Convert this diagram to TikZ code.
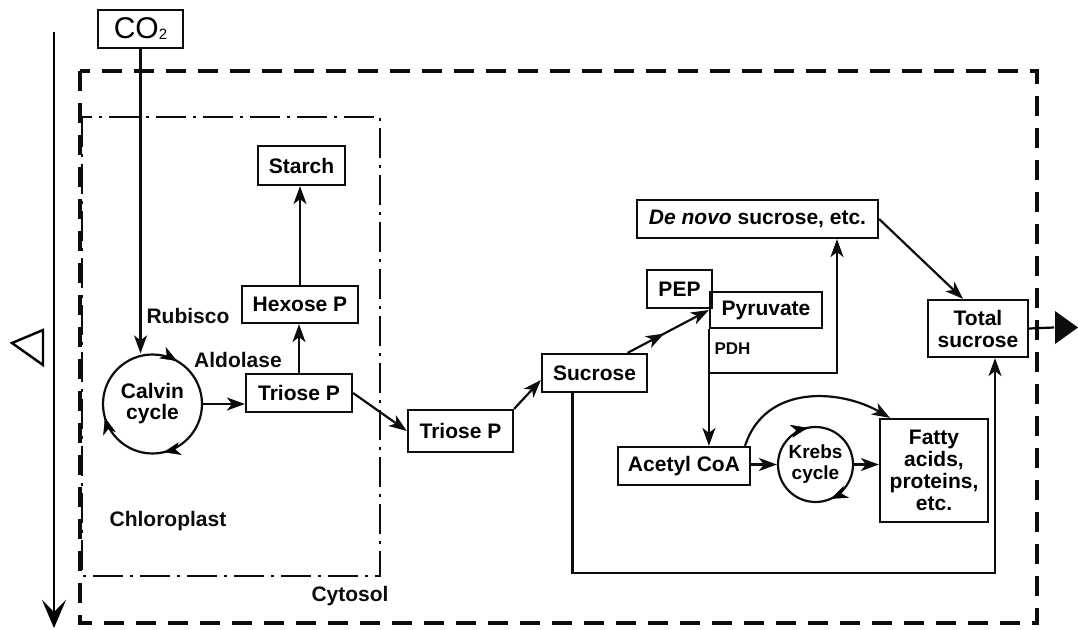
\documentclass[tikz,border=0pt]{standalone}
\usepackage{fontspec}
\setmainfont{Liberation Sans}
\usepackage{xcolor}
\usepackage{tikz}
\usetikzlibrary{positioning,arrows.meta,calc,decorations.markings}
\definecolor{ink}{gray}{0.05}
\tikzset{
  box/.style={draw=ink, line width=2.2pt, inner sep=0pt, align=center,
              font=\bfseries\fontsize{21}{22}\selectfont},
  cyc/.style={draw=ink, line width=2.2pt, circle, inner sep=0pt, align=center,
              font=\bfseries\fontsize{21}{21}\selectfont},
  flow/.style={-{Stealth[length=18pt,width=13pt,inset=5pt]}, draw=ink, line width=2.2pt},
  midtip/.style={postaction={decorate, decoration={markings,
                 mark=at position #1 with {\arrow{Stealth[length=18pt,width=13pt,inset=5pt]}}}}},
  cyctip/.style={postaction={decorate, decoration={markings,
                 mark=at position #1 with {\arrow{Stealth[length=17pt,width=13pt,inset=5pt]}}}}},
  lbl/.style={font=\bfseries\fontsize{21}{22}\selectfont, color=ink},
  cell/.style={draw=ink, line width=3.8pt, dash pattern=on 20pt off 12pt},
  plastid/.style={draw=ink, line width=2.4pt, dash pattern=on 30pt off 7pt on 3pt off 7pt},
}
\begin{document}
\begin{tikzpicture}[x=1pt, y=-1pt]
  \useasboundingbox (0,0) rectangle (1078,629);
  % compartments
  \draw[cell] (80,71) rectangle (1037,623);
  \draw[plastid] (82,117) rectangle (380,576);
  \draw[line width=2.2pt, -{Stealth[length=28pt,width=24pt,inset=12pt]}] (54,32) -- (54,628);
  \draw[line width=2.4pt] (43,330) -- (12,343) -- (43,365) -- cycle;

  \node[box, font=\fontsize{30}{30}\selectfont, minimum width=85pt, minimum height=38pt]
       (co2) at (140.5,29) {CO\raisebox{-1pt}{\fontsize{15}{15}\selectfont 2}};
  \node[box, minimum width=87pt, minimum height=39pt] (starch) at (301.5,165.5) {Starch};
  \node[box, minimum width=116pt, minimum height=37pt] (hexose) at (300,304.5) {Hexose P};
  \node[box, minimum width=106pt, minimum height=38pt] (trioseA) at (299,393) {Triose P};
  \node[cyc, minimum size=99pt] (calvin) at (152.5,404) {Calvin\\cycle};
  \node[box, minimum width=105pt, minimum height=42pt] (trioseB) at (460.5,431) {Triose P};
  \node[box, minimum width=105pt, minimum height=38pt] (sucrose) at (594.5,373) {Sucrose};
  \node[box, minimum width=65pt, minimum height=38pt] (pep) at (679.5,289) {PEP};
  \node[box, minimum width=112pt, minimum height=36pt] (pyruvate) at (766,310) {Pyruvate};
  \node[box, minimum width=241pt, minimum height=38pt] (denovo) at (757.5,219) {\textit{De novo} sucrose, etc.};
  \node[box, minimum width=100pt, minimum height=57pt] (total) at (978,328.5) {Total\\sucrose};
  \node[box, minimum width=132pt, minimum height=38pt] (acetyl) at (684,466) {Acetyl CoA};
  \node[cyc, font=\bfseries\fontsize{19}{21}\selectfont, minimum size=75pt] (krebs) at (815.5,464.5) {Krebs\\cycle};
  \node[box, minimum width=108pt, minimum height=103pt] (fatty) at (934,470.5) {Fatty\\acids,\\proteins,\\etc.};

  \node[lbl] (rubisco) at (188,316) {Rubisco};
  \node[lbl] (aldolase) at (238,360) {Aldolase};
  \node[lbl] (chloro) at (168,521) {Chloroplast};
  \node[lbl] (cytosol) at (350,596) {Cytosol};
  \node[lbl, font=\bfseries\fontsize{17}{17}\selectfont, anchor=west] (pdh) at (711,349) {PDH};

  \coordinate (fork) at (710,373);
  \coordinate (base) at (995,573);

  \path[cyctip=0.833, cyctip=0.456, cyctip=0.214] (calvin.center) circle[radius=49.5];
  \path[cyctip=0.717, cyctip=0.183] (krebs.center) circle[radius=37.5];

  \draw[flow] (co2.south) -- (co2.south |- calvin.north);
  \draw[flow] (calvin.east) -- (calvin.east -| trioseA.west);
  \draw[flow] (trioseA.north) -- (trioseA.north |- hexose.south);
  \draw[flow] (hexose.north) -- (hexose.north |- starch.south);
  \draw[flow] (trioseA.east) -- (trioseB.west);
  \draw[flow] (trioseB.north east) -- ([yshift=-7pt]sucrose.west);
  \draw[flow, midtip=0.45] ([xshift=33pt]sucrose.north) -- (pyruvate.west);
  \draw[flow] (pyruvate.south west) -- (pyruvate.south west |- acetyl.north);
  \draw[flow] (fork) -| ([xshift=79.5pt]denovo.south);
  \draw[flow] (denovo.east) -- ([xshift=-15pt]total.north);
  \draw[flow] ([xshift=-22pt]sucrose.south) |- (base) -- (base |- total.south);
  \draw[flow] (krebs.west -| acetyl.east) -- (krebs.west);
  \draw[flow] (krebs.east) -- (krebs.east -| fatty.west);
  \draw[flow] ([xshift=61pt]acetyl.north) .. controls +(20,-62) and +(-50,-29) .. ([xshift=-44pt]fatty.north);

  \draw[line width=2.2pt] (total.east) -- (1054,327.5);
  \fill[ink] (1055,311) -- (1078,327.5) -- (1055,344) -- cycle;
\end{tikzpicture}
\end{document}
